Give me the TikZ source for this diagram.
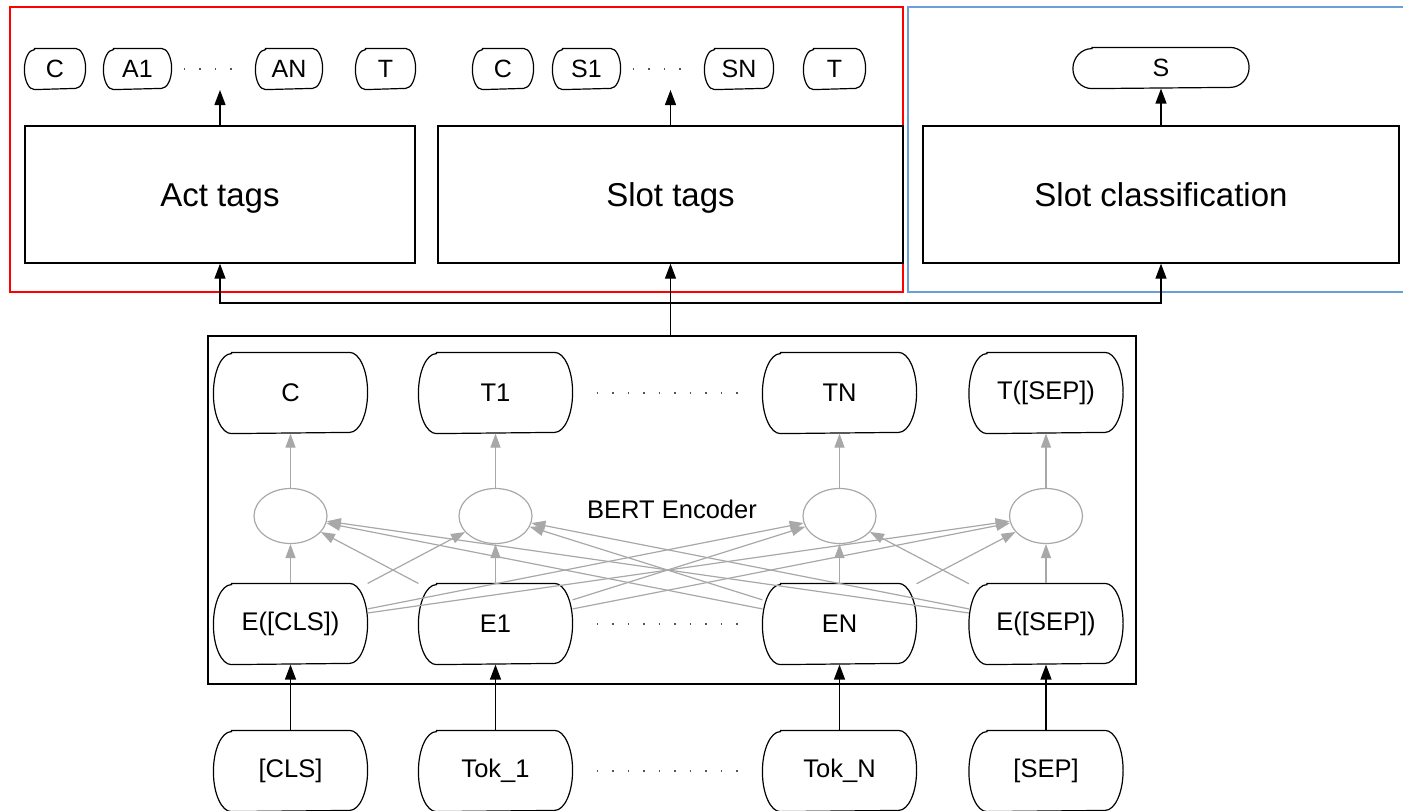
\documentclass[tikz,border=0pt]{standalone}
\usepackage{fontspec}
\setmainfont{Liberation Sans}
\usetikzlibrary{arrows.meta,calc,shapes.geometric}
\definecolor{redbox}{HTML}{FF0000}
\definecolor{bluebox}{HTML}{6A9FD8}
\definecolor{lgray}{HTML}{A8A8A8}
\definecolor{dotgray}{HTML}{555555}
\tikzset{
  tag/.style={line width=1.2pt, minimum height=40pt, inner sep=0pt, font=\fontsize{25}{25}\selectfont},
  big/.style={line width=1.2pt, minimum width=153pt, minimum height=80pt, inner sep=0pt, font=\fontsize{25.5}{25.5}\selectfont},
  task/.style={draw, line width=1.3pt, inner sep=0pt, minimum height=137pt, text height=24pt, text depth=0pt, font=\fontsize{33}{33}\selectfont},
  cell/.style={draw=lgray, ellipse, line width=1.2pt, minimum width=73pt, minimum height=55pt, inner sep=0pt},
  arr/.style={-{Triangle[length=15pt,width=11pt]}, line width=1.3pt},
  garr/.style={draw=lgray, -{Triangle[length=14pt,width=10pt]}, line width=1.2pt},
  dotline/.style={draw=dotgray, line width=1.5pt, dash pattern=on 1.5pt off 14pt},
  outline/.style={line width=1.2pt},
}
% pill outline: node name, horizontal radius, vertical radius
\newcommand\pillline[3]{%
  \draw[outline] ([xshift=#2]#1.north west) -- ([xshift=-#2]#1.north east)
    arc[start angle=90,end angle=-90,x radius=#2,y radius=#3]
    -- ([xshift=#2]#1.south west)
    arc[start angle=270,end angle=90,x radius=#2,y radius=#3] -- cycle;}
\begin{document}
\begin{tikzpicture}[x=1pt,y=-1pt]
\useasboundingbox (0,0) rectangle (1403,811);
\clip (0,0) rectangle (1403,811);
% group frames
\draw[redbox, line width=2.4pt] (10,7) rectangle (903,292);
\draw[bluebox, line width=2.4pt] (908,7) rectangle (1420,292);
% task boxes
\node[task, minimum width=390pt] (act) at (220,194.5) {Act tags};
\node[task, minimum width=465pt] (slot) at (670.5,194.5) {Slot tags};
\node[task, minimum width=476pt] (cls) at (1161,194.5) {Slot classification};
% act tag outputs
\node[tag, minimum width=60pt] (ac) at (55,69) {C};
\node[tag, minimum width=67pt] (a1) at (137.5,69) {A1};
\node[tag, minimum width=66pt] (an) at (289,69) {AN};
\node[tag, minimum width=59pt] (at) at (385.5,69) {T};
% slot tag outputs
\node[tag, minimum width=60pt] (sc) at (503,69) {C};
\node[tag, minimum width=67pt] (s1) at (586.5,69) {S1};
\node[tag, minimum width=68pt] (sn) at (739,69) {SN};
\node[tag, minimum width=61pt] (st) at (834.5,69) {T};
% slot classification output
\node[tag, minimum width=175pt] (s) at (1161,68) {S};
\foreach \n in {ac,a1,an,at,sc,s1,sn,st} {\pillline{\n}{10pt}{20pt}}
\pillline{s}{19pt}{20pt}
\draw[dotline, shorten <=12pt, shorten >=14pt] (a1.east) -- (an.west);
\draw[dotline, shorten <=12pt, shorten >=14pt] (s1.east) -- (sn.west);
\coordinate (acttip) at (220,90);
\coordinate (slottip) at (670.5,90);
\draw[arr] (act.north) -- (acttip);
\draw[arr] (slot.north) -- (slottip);
\draw[arr] (cls.north) -- (s.south);
% BERT box
\node[draw, line width=1.3pt, minimum width=928pt, minimum height=348pt, inner sep=0pt] (bert) at (672,510) {};
\node[font=\fontsize{25.5}{25.5}\selectfont] (bertlbl) at (672,509) {BERT Encoder};
% top row
\node[big] (t0) at (290.5,393) {C};
\node[big] (t1) at (495.5,393) {T1};
\node[big] (tn) at (839.5,393) {TN};
\node[big] (ts) at (1046,393) {T([SEP])};
% ellipses
\node[cell] (h0) at (290.5,516) {};
\node[cell] (h1) at (495.5,516) {};
\node[cell] (hn) at (839.5,516) {};
\node[cell] (hs) at (1046,516) {};
% embedding row
\node[big] (e0) at (290.5,624) {E([CLS])};
\node[big] (e1) at (495.5,624) {E1};
\node[big] (en) at (839.5,624) {EN};
\node[big] (es) at (1046,624) {E([SEP])};
% token row
\node[big] (k0) at (290.5,771) {[CLS]};
\node[big] (k1) at (495.5,771) {Tok\_1};
\node[big] (kn) at (839.5,771) {Tok\_N};
\node[big] (ks) at (1046,771) {[SEP]};
\foreach \n in {t0,t1,tn,ts,e0,e1,en,es,k0,k1,kn,ks} {\pillline{\n}{18pt}{40pt}}
% dots
\draw[dotline, shorten <=24pt, shorten >=18pt] (t1.east) -- (tn.west);
\draw[dotline, shorten <=24pt, shorten >=18pt] (e1.east) -- (en.west);
\draw[dotline, shorten <=24pt, shorten >=18pt] (k1.east) -- (kn.west);
% token -> embedding
\foreach \a/\b in {k0/e0,k1/e1,kn/en,ks/es} \draw[arr] (\a.north) -- (\b.south);
% gray vertical
\foreach \a/\b/\c in {e0/h0/t0,e1/h1/t1,en/hn/tn,es/hs/ts} {
  \draw[garr] (\a.north) -- (\b.south);
  \draw[garr] (\b.north) -- (\c.south);
}
% cross connections
\foreach \a/\b in {e0/h1,e0/hn,e0/hs,e1/h0,e1/hn,e1/hs,en/h0,en/h1,en/hs,es/h0,es/h1,es/hn}
  \draw[garr] (\a) -- (\b);
% BERT -> heads
\coordinate (split) at (670.5,303);
\draw[arr] (slot.south |- bert.north) -- (slot.south);
\draw[arr] (split) -| (act.south);
\draw[arr] (split) -| (cls.south);
\end{tikzpicture}
\end{document}
